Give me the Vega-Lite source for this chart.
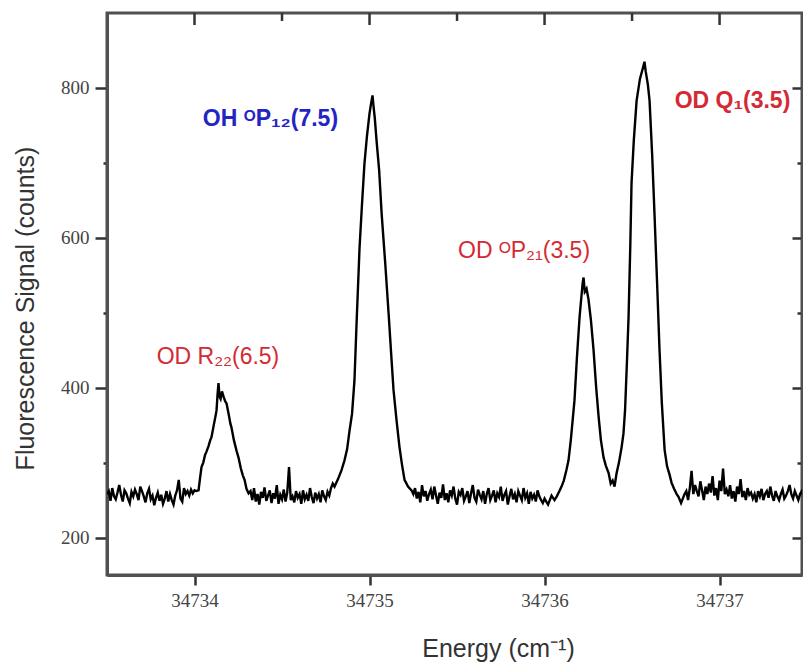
{
  "$schema": "https://vega.github.io/schema/vega-lite/v6.json",
  "width": 695,
  "height": 562,
  "autosize": {"type": "none"},
  "padding": {"left": 107, "top": 13, "right": 1, "bottom": 90},
  "background": "white",
  "config": {
    "view": {"stroke": "#505050", "strokeWidth": 3},
    "axis": {
      "grid": false,
      "domainColor": "#505050",
      "domainWidth": 3,
      "tickColor": "#333333",
      "tickWidth": 2.5,
      "labelFont": "Liberation Serif",
      "labelFontSize": 19,
      "labelColor": "#444444",
      "titleFont": "Liberation Sans",
      "titleFontSize": 25,
      "titleFontWeight": "normal",
      "titleColor": "#333333"
    }
  },
  "datasets": {
    "spec": [
      {"e":34733.50,"s":258},{"e":34733.51,"s":262},{"e":34733.52,"s":249},{"e":34733.53,"s":266},{"e":34733.54,"s":255},
      {"e":34733.55,"s":251},{"e":34733.56,"s":260},{"e":34733.57,"s":270},{"e":34733.58,"s":257},{"e":34733.59,"s":248},
      {"e":34733.60,"s":263},{"e":34733.61,"s":259},{"e":34733.62,"s":252},{"e":34733.63,"s":246},{"e":34733.64,"s":261},
      {"e":34733.65,"s":255},{"e":34733.66,"s":264},{"e":34733.67,"s":258},{"e":34733.68,"s":250},{"e":34733.69,"s":268},
      {"e":34733.70,"s":262},{"e":34733.71,"s":255},{"e":34733.72,"s":247},{"e":34733.73,"s":259},{"e":34733.74,"s":265},
      {"e":34733.75,"s":251},{"e":34733.76,"s":256},{"e":34733.77,"s":243},{"e":34733.78,"s":253},{"e":34733.79,"s":260},
      {"e":34733.80,"s":249},{"e":34733.81,"s":257},{"e":34733.82,"s":245},{"e":34733.83,"s":252},{"e":34733.84,"s":262},
      {"e":34733.85,"s":248},{"e":34733.86,"s":258},{"e":34733.87,"s":250},{"e":34733.88,"s":244},{"e":34733.89,"s":256},
      {"e":34733.90,"s":263},{"e":34733.91,"s":277},{"e":34733.92,"s":252},{"e":34733.93,"s":248},{"e":34733.94,"s":266},
      {"e":34733.95,"s":258},{"e":34733.96,"s":262},{"e":34733.97,"s":256},{"e":34733.98,"s":264},{"e":34733.99,"s":259},
      {"e":34734.00,"s":263},{"e":34734.01,"s":262},
      {"e":34734.023,"s":263},{"e":34734.032,"s":280},{"e":34734.04,"s":294},{"e":34734.05,"s":300},{"e":34734.06,"s":310},
      {"e":34734.069,"s":315},{"e":34734.08,"s":322},{"e":34734.09,"s":330},{"e":34734.097,"s":334},{"e":34734.11,"s":350},
      {"e":34734.12,"s":362},{"e":34734.126,"s":370},{"e":34734.132,"s":392},{"e":34734.137,"s":406},{"e":34734.143,"s":388},
      {"e":34734.149,"s":385},{"e":34734.157,"s":395},{"e":34734.166,"s":388},{"e":34734.175,"s":382},{"e":34734.183,"s":379},
      {"e":34734.195,"s":365},{"e":34734.205,"s":352},{"e":34734.211,"s":347},{"e":34734.225,"s":330},{"e":34734.24,"s":316},
      {"e":34734.251,"s":307},{"e":34734.265,"s":292},{"e":34734.276,"s":283},{"e":34734.286,"s":277},{"e":34734.297,"s":265},
      {"e":34734.309,"s":259},
      {"e":34734.32,"s":262},{"e":34734.33,"s":250},{"e":34734.34,"s":266},{"e":34734.35,"s":248},{"e":34734.36,"s":258},
      {"e":34734.37,"s":244},{"e":34734.38,"s":261},{"e":34734.39,"s":253},{"e":34734.40,"s":267},{"e":34734.41,"s":249},
      {"e":34734.42,"s":256},{"e":34734.43,"s":263},{"e":34734.44,"s":246},{"e":34734.45,"s":259},{"e":34734.46,"s":252},
      {"e":34734.47,"s":270},{"e":34734.48,"s":245},{"e":34734.49,"s":257},{"e":34734.50,"s":251},{"e":34734.51,"s":264},
      {"e":34734.52,"s":248},{"e":34734.53,"s":260},{"e":34734.54,"s":294},{"e":34734.55,"s":250},{"e":34734.56,"s":255},
      {"e":34734.57,"s":247},{"e":34734.58,"s":262},{"e":34734.59,"s":253},{"e":34734.60,"s":258},{"e":34734.61,"s":245},
      {"e":34734.62,"s":263},{"e":34734.63,"s":251},{"e":34734.64,"s":257},{"e":34734.65,"s":249},{"e":34734.66,"s":266},
      {"e":34734.67,"s":254},{"e":34734.68,"s":246},{"e":34734.69,"s":260},{"e":34734.70,"s":252},{"e":34734.71,"s":258},
      {"e":34734.72,"s":247},{"e":34734.73,"s":263},{"e":34734.74,"s":255},{"e":34734.75,"s":250},{"e":34734.76,"s":261},
      {"e":34734.77,"s":256},{"e":34734.78,"s":266},{"e":34734.79,"s":272},
      {"e":34734.80,"s":268},{"e":34734.82,"s":278},{"e":34734.84,"s":290},{"e":34734.857,"s":303},{"e":34734.872,"s":318},
      {"e":34734.886,"s":343},{"e":34734.90,"s":365},{"e":34734.914,"s":410},{"e":34734.925,"s":480},{"e":34734.943,"s":587},
      {"e":34734.957,"s":645},{"e":34734.971,"s":699},{"e":34734.985,"s":735},{"e":34735.0,"s":766},{"e":34735.008,"s":778},
      {"e":34735.017,"s":790},{"e":34735.023,"s":775},{"e":34735.03,"s":760},{"e":34735.04,"s":730},{"e":34735.055,"s":690},
      {"e":34735.069,"s":633},{"e":34735.09,"s":565},{"e":34735.109,"s":499},{"e":34735.125,"s":440},{"e":34735.137,"s":397},
      {"e":34735.155,"s":355},{"e":34735.171,"s":321},{"e":34735.185,"s":298},{"e":34735.2,"s":277},{"e":34735.22,"s":268},
      {"e":34735.24,"s":263},
      {"e":34735.25,"s":258},{"e":34735.26,"s":266},{"e":34735.27,"s":252},{"e":34735.28,"s":261},{"e":34735.29,"s":247},
      {"e":34735.30,"s":270},{"e":34735.31,"s":255},{"e":34735.32,"s":262},{"e":34735.33,"s":249},{"e":34735.34,"s":258},
      {"e":34735.35,"s":264},{"e":34735.36,"s":251},{"e":34735.37,"s":268},{"e":34735.38,"s":256},{"e":34735.39,"s":245},
      {"e":34735.40,"s":260},{"e":34735.41,"s":253},{"e":34735.42,"s":271},{"e":34735.43,"s":250},{"e":34735.44,"s":259},
      {"e":34735.45,"s":247},{"e":34735.46,"s":263},{"e":34735.47,"s":256},{"e":34735.48,"s":268},{"e":34735.49,"s":252},
      {"e":34735.50,"s":244},{"e":34735.51,"s":261},{"e":34735.52,"s":257},{"e":34735.53,"s":266},{"e":34735.54,"s":249},
      {"e":34735.55,"s":255},{"e":34735.56,"s":262},{"e":34735.57,"s":246},{"e":34735.58,"s":259},{"e":34735.59,"s":270},
      {"e":34735.60,"s":253},{"e":34735.61,"s":248},{"e":34735.62,"s":264},{"e":34735.63,"s":257},{"e":34735.64,"s":251},
      {"e":34735.65,"s":262},{"e":34735.66,"s":245},{"e":34735.67,"s":258},{"e":34735.68,"s":266},{"e":34735.69,"s":250},
      {"e":34735.70,"s":256},{"e":34735.71,"s":263},{"e":34735.72,"s":247},{"e":34735.73,"s":259},{"e":34735.74,"s":254},
      {"e":34735.75,"s":268},{"e":34735.76,"s":249},{"e":34735.77,"s":257},{"e":34735.78,"s":262},{"e":34735.79,"s":244},
      {"e":34735.80,"s":255},{"e":34735.81,"s":265},{"e":34735.82,"s":251},{"e":34735.83,"s":258},{"e":34735.84,"s":247},
      {"e":34735.85,"s":262},{"e":34735.86,"s":256},{"e":34735.87,"s":250},{"e":34735.88,"s":266},{"e":34735.89,"s":253},
      {"e":34735.90,"s":259},{"e":34735.91,"s":245},{"e":34735.92,"s":261},{"e":34735.93,"s":252},{"e":34735.94,"s":257},
      {"e":34735.95,"s":248},{"e":34735.96,"s":263},{"e":34735.97,"s":255},{"e":34735.98,"s":250},{"e":34735.99,"s":246},
      {"e":34736.00,"s":252},{"e":34736.01,"s":248},{"e":34736.02,"s":244},{"e":34736.03,"s":250},{"e":34736.04,"s":256},
      {"e":34736.057,"s":250},{"e":34736.07,"s":255},{"e":34736.085,"s":262},{"e":34736.097,"s":268},{"e":34736.11,"s":276},
      {"e":34736.125,"s":290},{"e":34736.137,"s":303},{"e":34736.15,"s":330},{"e":34736.16,"s":355},{"e":34736.171,"s":383},
      {"e":34736.185,"s":440},{"e":34736.2,"s":494},{"e":34736.21,"s":520},{"e":34736.218,"s":540},{"e":34736.223,"s":547},
      {"e":34736.23,"s":528},{"e":34736.24,"s":532},{"e":34736.251,"s":518},{"e":34736.265,"s":490},{"e":34736.28,"s":450},
      {"e":34736.295,"s":400},{"e":34736.309,"s":361},{"e":34736.322,"s":330},{"e":34736.337,"s":307},{"e":34736.35,"s":296},
      {"e":34736.366,"s":286},{"e":34736.378,"s":272},{"e":34736.389,"s":276},{"e":34736.40,"s":268},{"e":34736.411,"s":285},
      {"e":34736.425,"s":300},{"e":34736.44,"s":320},{"e":34736.451,"s":339},{"e":34736.46,"s":370},{"e":34736.47,"s":430},
      {"e":34736.48,"s":494},{"e":34736.49,"s":590},{"e":34736.497,"s":673},{"e":34736.51,"s":730},{"e":34736.526,"s":783},
      {"e":34736.545,"s":812},{"e":34736.56,"s":825},{"e":34736.571,"s":835},{"e":34736.578,"s":822},{"e":34736.59,"s":805},
      {"e":34736.6,"s":783},{"e":34736.615,"s":710},{"e":34736.629,"s":627},{"e":34736.643,"s":540},{"e":34736.657,"s":450},
      {"e":34736.67,"s":380},{"e":34736.686,"s":317},{"e":34736.70,"s":295},{"e":34736.713,"s":285},{"e":34736.726,"s":273},
      {"e":34736.74,"s":265},{"e":34736.755,"s":258},{"e":34736.766,"s":254},
      {"e":34736.78,"s":246},{"e":34736.79,"s":252},{"e":34736.80,"s":258},{"e":34736.81,"s":262},{"e":34736.82,"s":250},
      {"e":34736.83,"s":266},{"e":34736.84,"s":289},{"e":34736.85,"s":258},{"e":34736.86,"s":270},{"e":34736.87,"s":262},
      {"e":34736.88,"s":255},{"e":34736.89,"s":275},{"e":34736.90,"s":263},{"e":34736.91,"s":250},{"e":34736.92,"s":268},
      {"e":34736.93,"s":258},{"e":34736.94,"s":272},{"e":34736.95,"s":260},{"e":34736.96,"s":282},{"e":34736.97,"s":256},
      {"e":34736.98,"s":266},{"e":34736.99,"s":250},{"e":34737.00,"s":276},{"e":34737.01,"s":262},{"e":34737.02,"s":292},
      {"e":34737.03,"s":258},{"e":34737.04,"s":264},{"e":34737.05,"s":255},{"e":34737.06,"s":270},{"e":34737.07,"s":252},
      {"e":34737.08,"s":262},{"e":34737.09,"s":248},{"e":34737.10,"s":268},{"e":34737.11,"s":258},{"e":34737.12,"s":278},
      {"e":34737.13,"s":254},{"e":34737.14,"s":262},{"e":34737.15,"s":250},{"e":34737.16,"s":266},{"e":34737.17,"s":257},
      {"e":34737.18,"s":260},{"e":34737.19,"s":252},{"e":34737.20,"s":258},{"e":34737.21,"s":247},{"e":34737.22,"s":262},
      {"e":34737.23,"s":255},{"e":34737.24,"s":265},{"e":34737.25,"s":250},{"e":34737.26,"s":258},{"e":34737.27,"s":262},
      {"e":34737.28,"s":253},{"e":34737.29,"s":268},{"e":34737.30,"s":256},{"e":34737.31,"s":249},{"e":34737.32,"s":262},
      {"e":34737.33,"s":255},{"e":34737.34,"s":250},{"e":34737.35,"s":258},{"e":34737.36,"s":264},{"e":34737.37,"s":252},
      {"e":34737.38,"s":256},{"e":34737.39,"s":262},{"e":34737.40,"s":270},{"e":34737.41,"s":258},{"e":34737.42,"s":252},
      {"e":34737.43,"s":262},{"e":34737.44,"s":256},{"e":34737.45,"s":250},{"e":34737.46,"s":258},{"e":34737.47,"s":262},
      {"e":34737.48,"s":254},{"e":34737.49,"s":252},{"e":34737.50,"s":258}
    ],
    "labels": [
      {"x": 34734.434, "y": 758, "label": "OH ᴼP₁₂(7.5)", "c": "#2424c4", "b": true},
      {"x": 34737.074, "y": 783, "label": "OD Q₁(3.5)", "c": "#d42a34", "b": true},
      {"x": 34735.883, "y": 583, "label": "OD ᴼP₂₁(3.5)", "c": "#d42a34", "b": false},
      {"x": 34734.134, "y": 441, "label": "OD R₂₂(6.5)", "c": "#d42a34", "b": false}
    ],
    "topticks": [
      {"t": 34734, "major": true}, {"t": 34734.5, "major": false},
      {"t": 34735, "major": true}, {"t": 34735.5, "major": false},
      {"t": 34736, "major": true}, {"t": 34736.5, "major": false},
      {"t": 34737, "major": true}
    ]
  },
  "layer": [
    {
      "data": {"name": "spec"},
      "mark": {"type": "line", "color": "black", "strokeWidth": 2.4, "clip": true},
      "encoding": {
        "x": {
          "field": "e", "type": "quantitative",
          "scale": {"domain": [34733.5, 34737.471], "nice": false, "zero": false},
          "axis": {
            "orient": "bottom",
            "values": [34734, 34734.5, 34735, 34735.5, 34736, 34736.5, 34737],
            "format": "d",
            "labelExpr": "datum.value % 1 === 0 ? datum.label : ''",
            "labelOverlap": false,
            "labelFlush": false,
            "labelPadding": 6,
            "tickSize": {"condition": {"test": "datum.value % 1 === 0", "value": 10}, "value": 5},
            "title": "Energy (cm⁻¹)",
            "titleX": 391,
            "titleY": 73,
            "titleBaseline": "middle"
          }
        },
        "y": {
          "field": "s", "type": "quantitative",
          "scale": {"domain": [150, 900], "nice": false, "zero": false},
          "axis": {
            "orient": "left",
            "values": [200, 300, 400, 500, 600, 700, 800],
            "labelExpr": "datum.value % 200 === 0 ? datum.label : ''",
            "labelOverlap": false,
            "labelFlush": false,
            "labelPadding": 6,
            "tickSize": {"condition": {"test": "datum.value % 200 === 0", "value": 12}, "value": 4},
            "title": "Fluorescence Signal (counts)",
            "titleX": -82,
            "titleY": 295,
            "titleBaseline": "middle"
          }
        }
      }
    },
    {
      "data": {"name": "labels"},
      "transform": [{"filter": "datum.b"}],
      "mark": {"type": "text", "font": "Liberation Sans", "fontSize": 23, "fontWeight": "bold", "align": "center", "baseline": "middle"},
      "encoding": {
        "x": {
          "field": "x", "type": "quantitative",
          "scale": {"domain": [34733.5, 34737.471], "nice": false, "zero": false},
          "axis": null
        },
        "y": {
          "field": "y", "type": "quantitative",
          "scale": {"domain": [150, 900], "nice": false, "zero": false},
          "axis": {
            "orient": "right",
            "values": [200, 300, 400, 500, 600, 700, 800],
            "labels": false,
            "title": null,
            "tickSize": {"condition": {"test": "datum.value % 200 === 0", "value": -10}, "value": -5}
          }
        },
        "text": {"field": "label"},
        "color": {"field": "c", "type": "nominal", "scale": null}
      }
    },
    {
      "data": {"name": "labels"},
      "transform": [{"filter": "!datum.b"}],
      "mark": {"type": "text", "font": "Liberation Sans", "fontSize": 23, "fontWeight": "normal", "align": "center", "baseline": "middle"},
      "encoding": {
        "x": {"field": "x", "type": "quantitative", "scale": {"domain": [34733.5, 34737.471], "nice": false, "zero": false}, "axis": null},
        "y": {"field": "y", "type": "quantitative", "scale": {"domain": [150, 900], "nice": false, "zero": false}, "axis": null},
        "text": {"field": "label"},
        "color": {"field": "c", "type": "nominal", "scale": null}
      }
    },
    {
      "data": {"name": "topticks"},
      "transform": [{"filter": "datum.major"}],
      "mark": {"type": "tick", "orient": "vertical", "color": "#333333", "size": 12, "thickness": 2.5, "opacity": 1},
      "encoding": {
        "x": {"field": "t", "type": "quantitative", "scale": {"domain": [34733.5, 34737.471], "nice": false, "zero": false}, "axis": null},
        "y": {"datum": 892, "type": "quantitative", "scale": {"domain": [150, 900], "nice": false, "zero": false}, "axis": null}
      }
    },
    {
      "data": {"name": "topticks"},
      "transform": [{"filter": "!datum.major"}],
      "mark": {"type": "tick", "orient": "vertical", "color": "#333333", "size": 8, "thickness": 2.5, "opacity": 1},
      "encoding": {
        "x": {"field": "t", "type": "quantitative", "scale": {"domain": [34733.5, 34737.471], "nice": false, "zero": false}, "axis": null},
        "y": {"datum": 894.7, "type": "quantitative", "scale": {"domain": [150, 900], "nice": false, "zero": false}, "axis": null}
      }
    }
  ],
  "resolve": {"axis": {"x": "independent", "y": "independent"}}
}
